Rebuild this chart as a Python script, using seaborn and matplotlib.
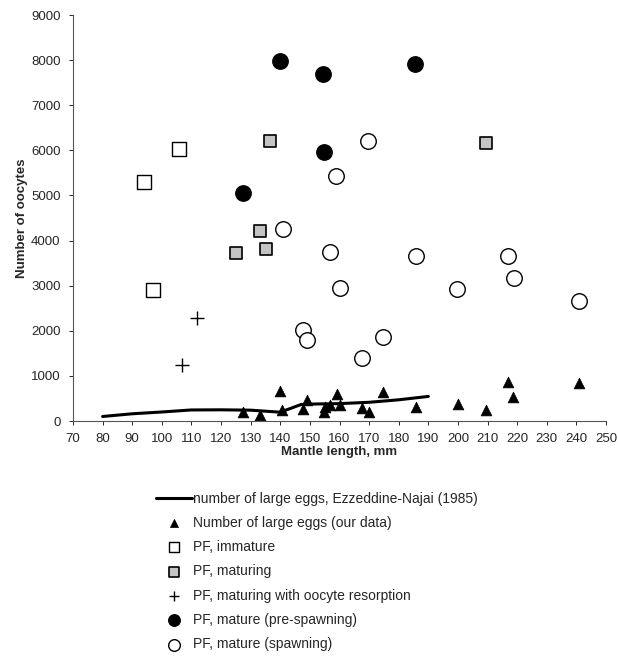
import numpy as np
import pandas as pd
import matplotlib
matplotlib.use('Agg')
import matplotlib.pyplot as plt
import seaborn as sns

# Ezzeddine-Najai (1985) curve
lit_len = [80, 90, 100, 110, 120, 130, 140, 147, 150, 160, 170, 180, 190]
lit_eggs = [100, 160, 200, 245, 248, 240, 195, 365, 375, 385, 415, 470, 545]

# number of large eggs (our data)
egg_len = [127.5, 133, 140, 140.6, 147.8, 149, 154.8, 155, 156.8, 159, 160, 167.5, 170, 174.8, 186, 200, 209.6, 217, 218.5, 241]
egg_num = [210, 130, 660, 250, 265, 470, 207, 300, 350, 590, 355, 295, 207, 642, 310, 385, 250, 860, 530, 835]

imm_len = [94, 97, 105.8]
imm_num = [5290, 2900, 6030]

matu_len = [125, 133, 135.1, 136.6, 209.4]
matu_num = [3730, 4220, 3820, 6200, 6170]

resorp_len = [106.8, 111.8]
resorp_num = [1245, 2285]

pre_len = [127.5, 140, 154.5, 154.6, 185.5]
pre_num = [5050, 7970, 7690, 5960, 7910]

spawn_len = [140.8, 147.8, 148.9, 156.7, 158.7, 160, 167.6, 169.7, 174.7, 185.8, 199.7, 217, 218.8, 241]
spawn_num = [4260, 2025, 1790, 3755, 5430, 2950, 1390, 6200, 1870, 3660, 2930, 3660, 3180, 2655]

sns.set_style('white')
plt.rcParams['font.family'] = ['Liberation Sans', 'DejaVu Sans']

fig = plt.figure(figsize=(6.18, 6.67), dpi=100)
ax = fig.add_axes([73 / 618, 1 - 421 / 667, (606 - 73) / 618, (421 - 15) / 667])

sns.lineplot(x=lit_len, y=lit_eggs, ax=ax, color='black', lw=2.2,
             label='number of large eggs, Ezzeddine-Najai (1985)')
sns.scatterplot(x=egg_len, y=egg_num, ax=ax, marker='^', s=60, color='black',
                edgecolor='black', linewidth=0.5, label='Number of large eggs (our data)')
sns.scatterplot(x=imm_len, y=imm_num, ax=ax, marker='s', s=95, facecolor='white',
                edgecolor='black', linewidth=1.0, label='PF, immature')
sns.scatterplot(x=matu_len, y=matu_num, ax=ax, marker='s', s=80, facecolor='#c4c4c4',
                edgecolor='black', linewidth=1.2, label='PF, maturing')
sns.scatterplot(x=resorp_len, y=resorp_num, ax=ax, marker='+', s=110, color='black',
                linewidth=1.0, label='PF, maturing with oocyte resorption')
sns.scatterplot(x=pre_len, y=pre_num, ax=ax, marker='o', s=125, color='black',
                edgecolor='black', label='PF, mature (pre-spawning)')
sns.scatterplot(x=spawn_len, y=spawn_num, ax=ax, marker='o', s=125, facecolor='white',
                edgecolor='black', linewidth=1.0, label='PF, mature (spawning)')

ax.set_xlim(70, 250)
ax.set_ylim(0, 9000)
ax.set_xticks(np.arange(70, 251, 10))
ax.set_yticks(np.arange(0, 9001, 1000))
ax.tick_params(axis='both', labelsize=9.5, length=3, width=0.7, direction='out',
               bottom=True, left=True, pad=6)
for side in ['top', 'right']:
    ax.spines[side].set_visible(False)
for side in ['left', 'bottom']:
    ax.spines[side].set_color('#555555')
    ax.spines[side].set_linewidth(0.8)

ax.set_xlabel('Mantle length, mm', fontsize=9.5, fontweight='bold', labelpad=0)
ax.set_ylabel('Number of oocytes', fontsize=9.5, fontweight='bold', labelpad=2)

handles, labels = ax.get_legend_handles_labels()
ax.get_legend().remove()
fig.legend(handles, labels, loc='upper left', bbox_to_anchor=(150 / 618, 1 - 486 / 667),
           frameon=False, fontsize=10, labelspacing=0.74, handlelength=2.6,
           handletextpad=0.1, borderaxespad=0, markerscale=0.75)

fig.savefig('out.png', dpi=100)
